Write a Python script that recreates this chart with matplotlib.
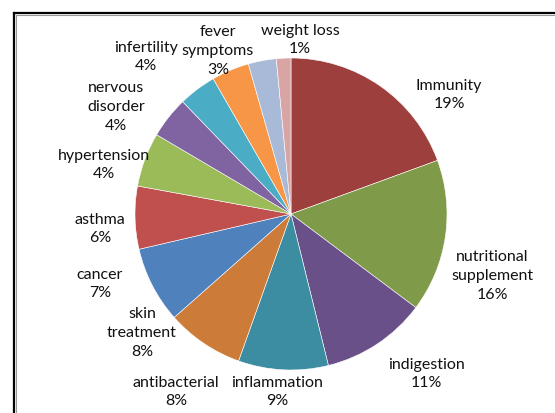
import matplotlib.pyplot as plt
from matplotlib.lines import Line2D

# Slice shares and the percentage labels shown
categories = ["Immunity", "nutritional\nsupplement", "indigestion", "inflammation",
              "antibacterial", "skin\ntreatment", "cancer", "asthma", "hypertension",
              "nervous\ndisorder", "infertility", "fever\nsymptoms", "weight loss"]
shares = [19.4, 15.8, 10.9, 9.3, 8.0, 7.9, 6.5, 5.6, 4.3, 3.9, 3.9, 2.9, 1.5]
pct_labels = ["19%", "16%", "11%", "9%", "8%", "8%", "7%", "6%", "4%", "4%", "4%", "3%", "1%"]

colors = ["#9D403D", "#7F9A48", "#6A5088", "#3D8DA2", "#CC7B38", "#4F81BD", "#C0504D",
          "#9BBB59", "#8064A2", "#4BACC6", "#F79646", "#A9BAD8", "#D8A5A4"]

# label block centres in pixels (Excel moved them by hand)
label_px = [(449, 95), (492, 276), (426, 374), (277, 392), (176, 392), (142, 333),
            (100, 284), (100, 229), (104, 165), (116, 107), (146, 57), (218, 51), (300, 40)]

W, H = 555, 414
fig = plt.figure(figsize=(W / 100, H / 100), dpi=100)

# pie axes: centre (291, 215), radius 156 px
cx, cy, r = 291, 215, 156
ax = fig.add_axes([(cx - r) / W, (H - cy - r) / H, 2 * r / W, 2 * r / H])
ax.pie(shares, colors=colors, startangle=90, counterclock=False, radius=1,
       wedgeprops=dict(edgecolor="white", linewidth=0.4))
ax.set_xlim(-1, 1)
ax.set_ylim(-1, 1)
ax.set_aspect("equal")
ax.axis("off")

for name, pct, (px, py) in zip(categories, pct_labels, label_px):
    fig.text(px / W, 1 - py / H, f"{name}\n{pct}", ha="center", va="center",
             fontsize=11.5, family="Lato", color="#111111", linespacing=1.45)

# frame of the chart area (only left and top are visible)
x0, y0 = 13.5 / W, 1 - 13.5 / H
fig.add_artist(Line2D([x0, x0], [0, y0], color="black", lw=1.6, transform=fig.transFigure))
fig.add_artist(Line2D([x0, 1], [y0, y0], color="black", lw=1.6, transform=fig.transFigure))
x1, y1 = 15.5 / W, 1 - 15.5 / H
fig.add_artist(Line2D([x1, x1], [0, y1], color="#999999", lw=0.8, transform=fig.transFigure))
fig.add_artist(Line2D([x1, 1], [y1, y1], color="#999999", lw=0.8, transform=fig.transFigure))

fig.savefig("out.png", dpi=100)
